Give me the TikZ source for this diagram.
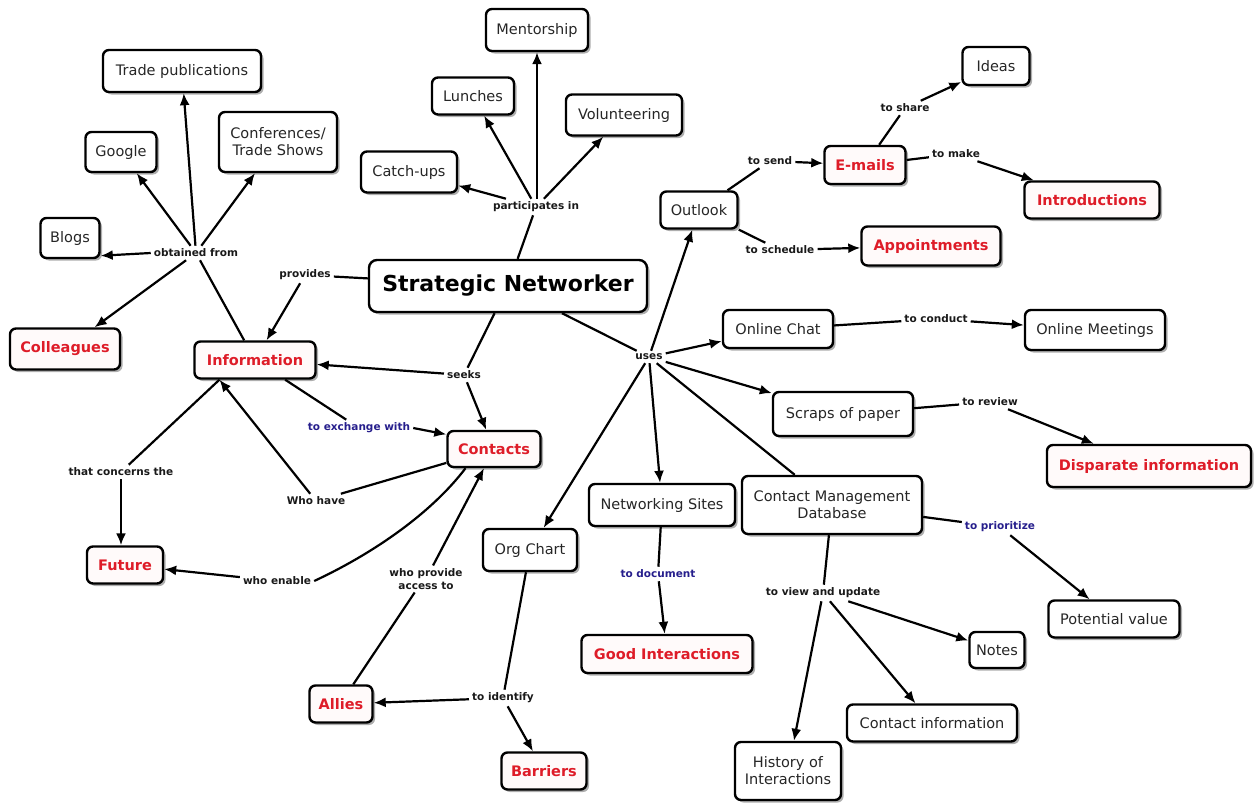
\documentclass[tikz,border=0pt]{standalone}
\usepackage{fontspec}
\setmainfont{DejaVu Sans}
\usetikzlibrary{arrows.meta,shadows}
\definecolor{cred}{RGB}{222,28,40}
\definecolor{cblue}{RGB}{38,30,140}
\tikzset{
  base/.style={draw=black, line width=2.4pt, rounded corners=6pt, fill=white, align=center, inner sep=2pt,
    drop shadow={shadow xshift=2.5pt, shadow yshift=-2.5pt, opacity=0.45, fill=black!70}},
  concept/.style={base, font=\fontsize{14.5}{17}\selectfont, text=black!85},
  hot/.style={base, fill=red!2, font=\fontsize{14.5}{17}\selectfont\bfseries, text=cred},
  bigc/.style={base, rounded corners=8pt, font=\fontsize{22}{26}\selectfont\bfseries, text=black},
  lbl/.style={font=\fontsize{10.5}{12.5}\selectfont\bfseries, text=black!90, inner sep=3pt, align=center},
  blbl/.style={lbl, text=cblue},
  ln/.style={line width=2.2pt, draw=black},
  ar/.style={ln, -{Latex[length=12pt,width=10pt]}},
  sz/.style 2 args={minimum width=#1pt, minimum height=#2pt},
}
\begin{document}
\begin{tikzpicture}[x=1pt,y=-1pt]
\useasboundingbox (0,0) rectangle (1254,803);
% concepts
\node[concept,sz={102}{42}] (mentor) at (537,30) {Mentorship};
\node[concept,sz={158}{42}] (tradepub) at (182,71) {Trade publications};
\node[concept,sz={118}{60}] (conf) at (278,142) {Conferences/\\Trade Shows};
\node[concept,sz={71}{40}] (google) at (121,152) {Google};
\node[concept,sz={82}{37}] (lunches) at (473,96) {Lunches};
\node[concept,sz={116}{41}] (volunt) at (624,115) {Volunteering};
\node[concept,sz={96}{41}] (catch) at (409,172) {Catch-ups};
\node[concept,sz={59}{40}] (blogs) at (70,238) {Blogs};
\node[concept,sz={67}{38}] (ideas) at (996,66) {Ideas};
\node[hot,sz={81}{38}] (emails) at (865,165) {E-mails};
\node[hot,sz={135}{37}] (intro) at (1092,200) {Introductions};
\node[concept,sz={77}{37}] (outlook) at (699,210) {Outlook};
\node[hot,sz={139}{39}] (appoint) at (931,246) {Appointments};
\node[bigc,sz={278}{52}] (sn) at (508,286) {Strategic Networker};
\node[concept,sz={110}{38}] (chat) at (778,329) {Online Chat};
\node[concept,sz={140}{40}] (meetings) at (1095,330) {Online Meetings};
\node[hot,sz={110}{41}] (colleagues) at (65,349) {Colleagues};
\node[hot,sz={121}{37}] (info) at (255,360) {Information};
\node[concept,sz={140}{44}] (scraps) at (843,414) {Scraps of paper};
\node[hot,sz={204}{42}] (disparate) at (1149,466) {Disparate information};
\node[hot,sz={93}{36}] (contacts) at (494,449) {Contacts};
\node[concept,sz={146}{42}] (netsites) at (662,505) {Networking Sites};
\node[concept,sz={180}{58}] (cmd) at (832,505) {Contact Management\\Database};
\node[concept,sz={94}{42}] (org) at (530,550) {Org Chart};
\node[hot,sz={76}{37}] (future) at (125,565) {Future};
\node[concept,sz={131}{37}] (potential) at (1114,619) {Potential value};
\node[concept,sz={55}{36}] (notes) at (997,650) {Notes};
\node[hot,sz={171}{38}] (good) at (667,654) {Good Interactions};
\node[hot,sz={63}{37}] (allies) at (341,704) {Allies};
\node[concept,sz={170}{37}] (continfo) at (932,723) {Contact information};
\node[hot,sz={85}{37}] (barriers) at (544,771) {Barriers};
\node[concept,sz={106}{58}] (history) at (788,771) {History of\\Interactions};
% link labels
\node[lbl] (part) at (536,207) {participates in};
\node[lbl] (obt) at (196,253) {obtained from};
\node[lbl] (prov) at (305,275) {provides};
\node[lbl] (tosend) at (770,161) {to send};
\node[lbl] (toshare) at (905,108) {to share};
\node[lbl] (tomake) at (956,154) {to make};
\node[lbl] (tosched) at (780,250) {to schedule};
\node[lbl] (uses) at (649,357) {uses};
\node[lbl] (conduct) at (936,319) {to conduct};
\node[lbl] (seeks) at (464,375) {seeks};
\node[blbl] (exch) at (359,428) {to exchange with};
\node[lbl] (review) at (990,402) {to review};
\node[lbl] (tct) at (121,472) {that concerns the};
\node[lbl] (whohave) at (316,501) {Who have};
\node[lbl] (enable) at (277,581) {who enable};
\node[lbl] (wpa) at (426,579) {who provide\\access to};
\node[blbl] (todoc) at (658,574) {to document};
\node[blbl] (prior) at (1000,527) {to prioritize};
\node[lbl] (view) at (823,593) {to view and update};
\node[lbl] (ident) at (503,698) {to identify};
% connectors
\draw[ln] (sn) -- (part);
\draw[ar] (part) -- (catch);
\draw[ar] (part) -- (lunches);
\draw[ar] (part.north -| mentor) -- (mentor);
\draw[ar] (part) -- (volunt);
\draw[ln] (sn) -- (prov);
\draw[ar] (prov) -- (info);
\draw[ln] (info) -- (obt);
\draw[ar] (obt.west) -- (blogs.-30);
\draw[ar] (obt) -- (google);
\draw[ar] (obt) -- (tradepub);
\draw[ar] (obt) -- (conf);
\draw[ar] (obt) -- (colleagues);
\draw[ln] (sn) -- (seeks);
\draw[ar] (seeks) -- (info);
\draw[ar] (seeks) -- (contacts);
\draw[ln] (info) -- (exch);
\draw[ar] (exch.east) -- (contacts.163);
\draw[ln] (contacts) -- (whohave);
\draw[ar] (whohave) -- (info.-151);
\draw[ln] (info.-151) -- (tct);
\draw[ar] (tct.south) -- (tct.south |- future.north);
\draw[ln] (contacts.-146) .. controls (430,515) and (370,555) .. (enable.east);
\draw[ar] (enable) -- (future);
\draw[ln] (allies.58) -- (wpa.-130);
\draw[ar] (wpa) -- (contacts);
\draw[ln] (sn) -- (uses);
\draw[ar] (uses) -- (outlook);
\draw[ar] (uses) -- (chat);
\draw[ar] (uses) -- (scraps);
\draw[ar] (uses) -- (netsites);
\draw[ar] (uses) -- (org);
\draw[ln] (uses) -- (cmd);
\draw[ln] (outlook) -- (tosend);
\draw[ar] (tosend) -- (emails);
\draw[ln] (outlook) -- (tosched);
\draw[ar] (tosched) -- (appoint);
\draw[ln] (emails) -- (toshare);
\draw[ar] (toshare) -- (ideas);
\draw[ln] (emails) -- (tomake);
\draw[ar] (tomake) -- (intro);
\draw[ln] (chat) -- (conduct);
\draw[ar] (conduct) -- (meetings);
\draw[ln] (scraps) -- (review);
\draw[ar] (review) -- (disparate);
\draw[ln] (netsites) -- (todoc);
\draw[ar] (todoc) -- (good);
\draw[ln] (cmd) -- (prior);
\draw[ar] (prior) -- (potential);
\draw[ln] (cmd) -- (view);
\draw[ar] (view) -- (history);
\draw[ar] (view) -- (continfo);
\draw[ar] (view) -- (notes);
\draw[ln] (org) -- (ident);
\draw[ar] (ident) -- (allies);
\draw[ar] (ident) -- (barriers);
\end{tikzpicture}
\end{document}
